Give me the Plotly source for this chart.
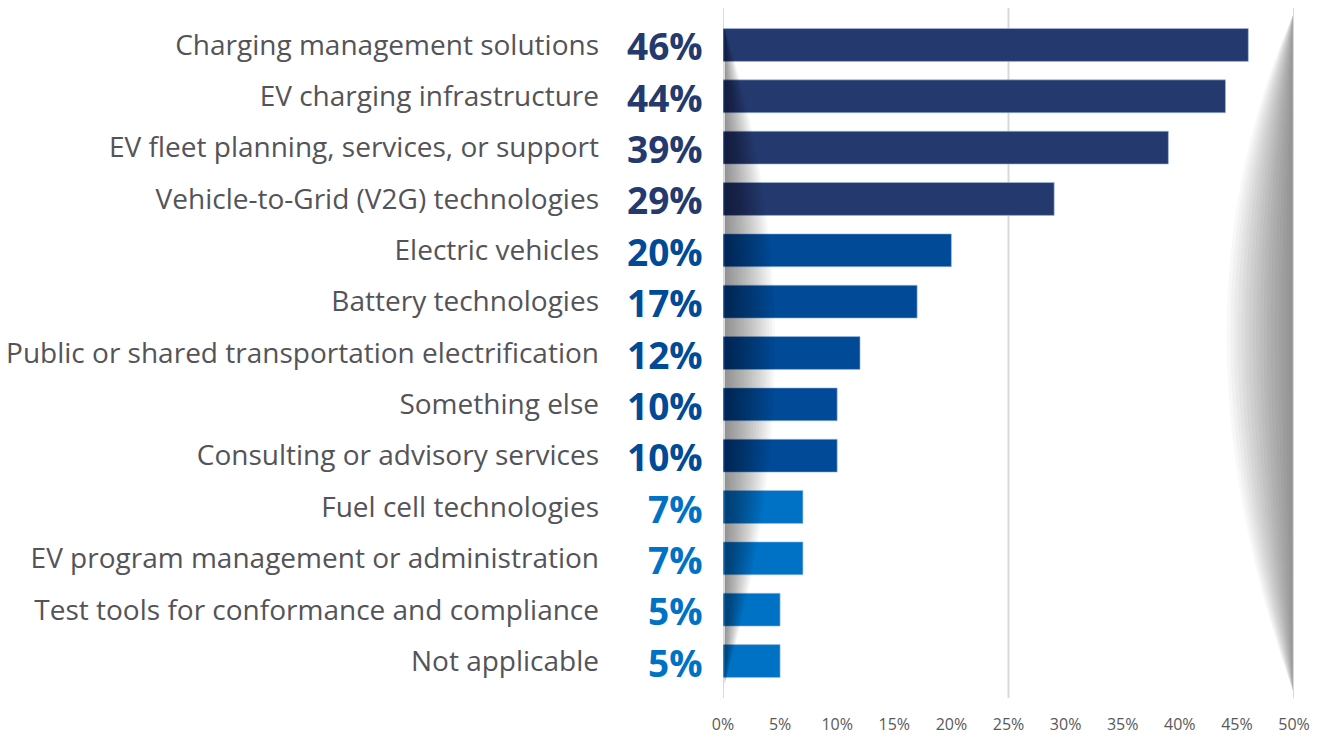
import plotly.graph_objects as go

categories = [
    "Charging management solutions",
    "EV charging infrastructure",
    "EV fleet planning, services, or support",
    "Vehicle-to-Grid (V2G) technologies",
    "Electric vehicles",
    "Battery technologies",
    "Public or shared transportation electrification",
    "Something else",
    "Consulting or advisory services",
    "Fuel cell technologies",
    "EV program management or administration",
    "Test tools for conformance and compliance",
    "Not applicable",
]
values = [46, 44, 39, 29, 20, 17, 12, 10, 10, 7, 7, 5, 5]
value_labels = ["46%", "44%", "39%", "29%", "20%", "17%", "12%", "10%", "10%", "7%", "7%", "5%", "5%"]
x_ticks = [0, 5, 10, 15, 20, 25, 30, 35, 40, 45, 50]
x_tick_labels = ["0%", "5%", "10%", "15%", "20%", "25%", "30%", "35%", "40%", "45%", "50%"]

DARK, MID, LIGHT = "#243a6e", "#004a97", "#0072c6"


def tier_color(v):
    if v >= 25:
        return DARK
    if v >= 10:
        return MID
    return LIGHT


colors = [tier_color(v) for v in values]

fig = go.Figure()
fig.add_trace(go.Bar(
    y=categories, x=values, orientation="h", width=0.64,
    marker=dict(color=colors, line=dict(color="rgba(160,190,230,0.6)", width=1)),
    hoverinfo="skip",
))

for cat, lab, col in zip(categories, value_labels, colors):
    fig.add_annotation(
        x=0, y=cat, xref="x", yref="y", text=lab, showarrow=False,
        xanchor="right", yanchor="middle", xshift=-18, yshift=-1,
        font=dict(family="Open Sans", size=37, color=col, weight=700),
    )

shapes = []
# left shadow (over bars)
n = 18
for i in range(1, n + 1):
    w = 4.4 * i / n
    shapes.append(dict(
        type="path", xref="x", yref="paper", layer="above",
        path=f"M 0.15,0.02 Q {0.15 + 2 * w},0.52 0.15,0.97 Z",
        fillcolor="black", opacity=0.027, line=dict(width=0),
    ))
# right shadow
for i in range(1, n + 1):
    w = 5.8 * i / n
    shapes.append(dict(
        type="path", xref="x", yref="paper", layer="below",
        path=f"M 49.9,0.01 Q {49.9 - 2 * w},0.55 49.9,0.99 Z",
        fillcolor="black", opacity=0.028, line=dict(width=0),
    ))
fig.update_layout(shapes=shapes)

fig.update_layout(
    width=1319, height=734,
    margin=dict(l=723, r=25, t=8, b=36),
    paper_bgcolor="white", plot_bgcolor="white",
    showlegend=False, bargap=0.36,
    font=dict(family="Open Sans"),
    xaxis=dict(
        range=[0, 50], tickvals=x_ticks, ticktext=x_tick_labels,
        showgrid=False, zeroline=False, showline=False, ticks="",
        ticklabelstandoff=15, automargin=False,
        tickfont=dict(family="Open Sans", size=16, color="#595959"),
        fixedrange=True,
    ),
    yaxis=dict(
        type="category", range=[12.72, -0.72],
        showgrid=False, zeroline=False, showline=False, ticks="",
        ticklabelstandoff=123, automargin=False,
        tickfont=dict(family="Open Sans", size=28, color="#545458"),
        fixedrange=True,
    ),
)

# Show only the 0, 25 and 50 gridlines
for gx in [0, 25, 50]:
    fig.add_shape(type="line", xref="x", yref="paper", x0=gx, x1=gx, y0=0, y1=1,
                  line=dict(color="#d9d9d9", width=2), layer="below")

fig.write_html("out.html", config={"displayModeBar": False},
               post_script="document.body.style.margin='0';")
